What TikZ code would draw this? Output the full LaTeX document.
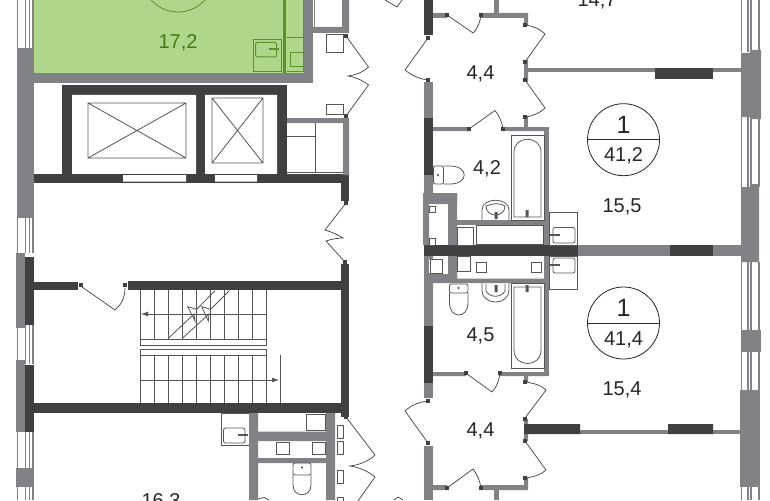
\documentclass[tikz,border=0pt]{standalone}
\usepackage{fontspec}
\setmainfont{Liberation Sans}
\usetikzlibrary{arrows.meta}
\definecolor{walldark}{HTML}{404040}
\definecolor{wallgray}{HTML}{808285}
\definecolor{linegray}{HTML}{555555}
\definecolor{roomgreen}{HTML}{B0D68C}
\definecolor{linegreen}{HTML}{5A9327}
\definecolor{textgreen}{HTML}{447A14}

\begin{document}
\begin{tikzpicture}[x=1pt,y=-1pt,
  wall/.style={fill=walldark},
  gray wall/.style={fill=wallgray},
  fixture/.style={draw=linegray,line width=0.8pt},
  door/.style={draw=walldark,line width=0.7pt},
  greenline/.style={draw=linegreen,line width=1pt},
  area/.style={font=\fontsize{20}{20}\selectfont,text=black!85},
  badge/.style={circle,draw=black!85,line width=0.8pt,minimum size=72pt,inner sep=0pt}]

  \useasboundingbox (0,0) rectangle (770,500);
  \clip (0,0) rectangle (770,500);

  % green room
  \fill[roomgreen] (34,0) rectangle (304,73);
  \fill[linegreen] (283,0) rectangle (286,73);
  \draw[greenline] (286.5,38) -- (303,38) (303,0) -- (303,72) (286.5,72) -- (303,72);
  \draw[greenline] (290,53) rectangle (303,67);
  \draw[greenline] (253,40) rectangle (281,72);
  \draw[greenline,rounded corners=2pt] (255.5,42.5) rectangle (276.5,57);
  \draw[linegreen,line width=2pt] (269,49.5) -- (279,49.5);
  \node (room badge) [badge,draw=linegreen] at (178,-24) {};

  % outer walls, left
  \fill[gray wall] (17,48) rectangle (34,218);
  \fill[gray wall] (16,253) rectangle (25,328);
  \fill[wall] (25,257) rectangle (34,325);
  \fill[gray wall] (16,360) rectangle (25,432);
  \fill[wall] (25,365) rectangle (34,432);
  \fill[gray wall] (16,468) rectangle (34,487);
  \foreach \winx in {17.5,25.5,29.5,33}{
    \draw[draw=wallgray,line width=1.3pt] (\winx,0) -- (\winx,48);
    \draw[draw=wallgray,line width=1.3pt] (\winx,218) -- (\winx,253);
    \draw[draw=wallgray,line width=1.3pt] (\winx,325) -- (\winx,364);
    \draw[draw=wallgray,line width=1.3pt] (\winx,432) -- (\winx,500);
  }

  % outer walls, right
  \foreach \winx in {741.5,748,751,759}{
    \draw[draw=wallgray,line width=1.2pt] (\winx,0) -- (\winx,52);
    \draw[draw=wallgray,line width=1.2pt] (\winx,117) -- (\winx,187);
    \draw[draw=wallgray,line width=1.2pt] (\winx,262) -- (\winx,330);
    \draw[draw=wallgray,line width=1.2pt] (\winx,352) -- (\winx,392);
    \draw[draw=wallgray,line width=1.2pt] (\winx,487) -- (\winx,500);
  }
  \fill[gray wall] (741,53) rectangle (750,117) (750,50) rectangle (761,119);
  \fill[gray wall] (741,187) rectangle (750,262) (750,184) rectangle (759,262);
  \fill[gray wall] (741,330) rectangle (761,352);
  \fill[gray wall] (740,390) rectangle (760,487);

  % walls round the green room
  \fill[gray wall] (34,73) rectangle (313,83);
  \fill[gray wall] (304,0) rectangle (313,83);
  \fill[gray wall] (313,27) rectangle (349,33) (342,0) rectangle (349,33);
  \draw[draw=wallgray,line width=1pt] (314.5,0) -- (314.5,28);

  % lift core
  \fill[wall] (62,85) rectangle (287,183);
  \fill[white] (72,95) rectangle (196,174) (205,95) rectangle (277,174);
  \fill[wall] (34,174) rectangle (349,183);
  \fill[white] (123,175) rectangle (186,181.5) (215,175) rectangle (257,181.5);
  \draw[fixture] (88,103) rectangle (186,158) (88,103) -- (186,158) (88,158) -- (186,103);
  \draw[fixture] (212,98) rectangle (263,163) (212,98) -- (263,163) (212,163) -- (263,98);
  \fill[gray wall] (287,118) rectangle (349,123) (343,118) rectangle (349,175);
  \draw[fixture] (315,123) -- (315,173) (287,136) -- (315,136) (287,172.5) -- (343,172.5);
  \fill[wall] (341,183) rectangle (349,201);
  \draw[fixture] (326,34.5) rectangle (343,52.5) (326,104) rectangle (343,114);

  % stair hall
  \fill[wall] (25,403) rectangle (349,413);
  \fill[wall] (34,282) rectangle (78,290);
  \fill[wall] (128,281) rectangle (341,290);
  \fill[wall] (341,264) rectangle (349,417);
  \foreach \stepx in {140,154,168,182,196,210,224,238,252,266}{
    \draw[fixture] (\stepx,290) -- (\stepx,339);
    \draw[fixture] (\stepx,355) -- (\stepx,403);
  }
  \draw[fixture] (140,339) rectangle (266,345) (140,349) rectangle (266,355);
  \draw[fixture] (280,355) -- (280,403);
  % flight break
  \draw[fixture] (168.3,338.3) -- (194,314) -- (195,321) -- (187.7,306.7) -- (196.7,309.3) -- (215,290.7);
  \draw[fixture] (182.3,338.3) -- (209,314) -- (208.3,321) -- (201.7,306.7) -- (210.7,309.3) -- (229.3,290.7);
  \draw[fixture,-{Latex[length=7pt,width=5pt]}] (266,314) -- (141,314);
  \draw[fixture,-{Latex[length=7pt,width=5pt]}] (140,380) -- (279,380);

  % bathroom bottom left
  \draw[fixture] (221,413) rectangle (249,445);
  \draw[fixture,rounded corners=2pt] (223.5,428) rectangle (245,443);
  \draw[linegray,line width=1.8pt] (238,435) -- (248,435);
  \fill[gray wall] (249,413) rectangle (258,500) (326,413) rectangle (335,500);
  \fill[gray wall] (258,431.5) rectangle (326,441) (258,458) rectangle (326,463);
  \draw[fixture] (306,414) rectangle (325,430) (276.5,442) rectangle (289,454) (312,442) rectangle (325,454);
  \draw[fixture,rounded corners=2pt] (293,463) rectangle (311,475);
  \draw[fixture] (293,475) -- (293,485) .. controls (293,498) and (311,498) .. (311,485) -- (311,475);
  \fill[walldark] (302,467.5) circle (1.2);
  \draw[fixture] (258,499) -- (264,497.5) -- (269,500);
  \draw[fixture] (337,425) rectangle (343.5,438) (337,441) rectangle (343.5,454) (337,470) rectangle (343.5,483) (337,497) rectangle (343.5,503);

  % middle walls
  \fill[wall] (424,245) rectangle (578,256);
  \fill[gray wall] (578,245) rectangle (741,256);
  \fill[wall] (670,245) rectangle (713,256);
  \fill[wall] (424,0) rectangle (433,35);
  \fill[gray wall] (424,82) rectangle (433,118);
  \fill[wall] (424,118) rectangle (433,175);
  \fill[gray wall] (424,175) rectangle (433,193) (424,193) rectangle (457,204);
  \fill[gray wall] (423,193) rectangle (429,245) (448,193) rectangle (457,245);
  \fill[gray wall] (457,220) rectangle (544,225);
  \fill[gray wall] (544,127) rectangle (549,245);
  \fill[gray wall] (433,127) rectangle (469,131) (503,127) rectangle (549,131);
  \fill[gray wall] (524,117) rectangle (528,127);
  \fill[gray wall] (433,13) rectangle (447,18) (481,13) rectangle (528,18);
  \fill[gray wall] (524,18) rectangle (528,25) (524,60) rectangle (528,82);
  \fill[gray wall] (494,0) rectangle (499,13);
  \fill[gray wall] (528,68) rectangle (741,72.5);
  \fill[wall] (655,68) rectangle (713,79);
  \draw[fixture] (429,206) rectangle (435.5,212) (429,238) rectangle (435.5,245);
  \draw[fixture] (457.5,227) rectangle (473,245) (476,225) rectangle (543,244);

  \fill[gray wall] (424,256) rectangle (433,326) (448,256) rectangle (457,283);
  \fill[gray wall] (433,278.5) rectangle (544,283) (424,274) rectangle (457,283);
  \fill[gray wall] (544,256) rectangle (549,376);
  \fill[wall] (424,326) rectangle (433,383);
  \fill[gray wall] (424,383) rectangle (433,398);
  \fill[gray wall] (433,372) rectangle (466,376) (500,372) rectangle (549,376);
  \fill[gray wall] (524,376) rectangle (528,382) (524,419) rectangle (528,441);
  \fill[gray wall] (528,430) rectangle (741,434);
  \fill[wall] (524,424) rectangle (580,434) (668,424) rectangle (713,434);
  \fill[gray wall] (424,446) rectangle (433,500);
  \fill[gray wall] (433,485) rectangle (447,490) (481,485) rectangle (528,490) (524,478) rectangle (528,490);
  \fill[gray wall] (494,490) rectangle (499,500);
  \fill[white] (429,259) rectangle (442,273);
  \draw[fixture] (430,259) rectangle (442,273) (457.5,256) rectangle (470,271) (476,262) rectangle (486,272) (531,262) rectangle (541,272);

  % hinges
  \foreach \hinge in {(346,36),(346,116),(346,203),(345,262),(81,285),(125,285),(346,417),
    (428,38),(428,80),(447,15),(481,15),(525,25),(525,62),(525,80),(525,117),(469,129),(503,129),
    (466,373),(500,373),(525,382),(525,419),(525,441),(428,401),(428,443),(447,488),(481,488),(525,478)}
    \fill[walldark] \hinge +(-1.8,-1.8) rectangle +(1.8,1.8);

  % doors
  \draw[door] (346,36) -- (368.5,67) .. controls (362,73) and (355,75) .. (348,76)
    .. controls (355,77) and (362,80) .. (368.5,85) -- (346,116);
  \draw[door] (346,203) -- (325,230) .. controls (332,232) and (338,235) .. (343,238)
    .. controls (338,238) and (332,239) .. (326,241) -- (345,262);
  \draw[door] (82,287) -- (115,310) .. controls (121,305) and (125,298) .. (125,288);
  \draw[door] (346,417) -- (375,455) .. controls (368,462) and (358,465) .. (350,466)
    .. controls (358,467) and (368,471) .. (375,477) -- (358,501);
  \draw[door] (385,0) -- (397,7) -- (402,0);
  \draw[door] (394,500) -- (398,497) -- (403,500);
  \draw[door] (428,38) -- (405,70) .. controls (412,76) and (420,79) .. (428,80);
  \draw[door] (447,15) -- (473,33) .. controls (478,28) and (480,22) .. (481,15);
  \draw[door] (525,25) .. controls (533,26) and (540,29) .. (545,34) -- (525,62);
  \draw[door] (525,80) -- (545,108) .. controls (540,113) and (533,116) .. (525,117);
  \draw[door] (469,129) -- (495,110.5) .. controls (499,115) and (502,122) .. (503,129);
  \draw[door] (467,374) -- (492,392) .. controls (497,387) and (499,380) .. (500,373);
  \draw[door] (525,382) .. controls (533,383) and (541,385) .. (546,390) -- (525,418);
  \draw[door] (428,401) .. controls (420,402) and (411,405) .. (405,411) -- (428,443);
  \draw[door] (447,488) -- (473,469) .. controls (477,474) and (480,481) .. (481,488);
  \draw[door] (525,441) -- (546,470) .. controls (541,475) and (533,477) .. (525,478);

  % upper bathroom
  \draw[fixture] (511,135) rectangle (544,220);
  \draw[fixture] (514,217) -- (541,217) -- (541,152) .. controls (541,135) and (514,135) .. (514,152) -- cycle;
  \draw[fixture,rounded corners=2pt] (433.5,166) rectangle (443.5,184);
  \draw[fixture] (443.5,166) -- (450,166) .. controls (469,166) and (469,184) .. (450,184) -- (443.5,184);
  \fill[walldark] (438,175) circle (1.2);
  \draw[fixture] (482,220) -- (482,210) .. controls (482,197) and (509,197) .. (509,210) -- (509,220);
  \draw[fixture] (486,206) .. controls (495,203) and (500,203) .. (505,206) .. controls (505,218) and (486,218) .. (486,206);
  \fill[linegray] (494.5,212) rectangle (497.5,219) (525.5,210) rectangle (528.5,217);
  \draw[fixture] (549,212) rectangle (577,245);
  \draw[fixture,rounded corners=2pt] (553,227.5) rectangle (575,243);
  \draw[linegray,line width=1.8pt] (550,235) -- (560,235);

  % lower bathroom
  \draw[fixture] (511,283) rectangle (544,368);
  \draw[fixture] (514,287) -- (541,287) -- (541,350) .. controls (541,368) and (514,368) .. (514,350) -- cycle;
  \draw[fixture,rounded corners=2pt] (449.5,284) rectangle (468,293);
  \draw[fixture] (449.5,293) -- (449.5,303) .. controls (449.5,319) and (468,319) .. (468,303) -- (468,293);
  \fill[walldark] (458.5,288) circle (1.2);
  \draw[fixture] (482,283) -- (482,290) .. controls (482,306) and (509,306) .. (509,290) -- (509,283);
  \draw[fixture] (486,284) -- (486,291) .. controls (490,298) and (501,298) .. (505,291) -- (505,284);
  \fill[linegray] (494.5,285) rectangle (497.5,292) (525.5,285) rectangle (528.5,292);
  \draw[fixture] (549,256) rectangle (577,289);
  \draw[fixture,rounded corners=2pt] (553,258) rectangle (575,273);
  \draw[linegray,line width=1.8pt] (550,265) -- (560,265);

  % area labels
  \node (green area) [area,text=textgreen] at (178,43) {17,2};
  \node (top area)   [area] at (597,0.5) {14,7};
  \node (hall up)    [area] at (480.5,74) {4,4};
  \node (bath up)    [area] at (487,168.5) {4,2};
  \node (room up)    [area] at (622,206.5) {15,5};
  \node (bath low)   [area] at (480.5,336) {4,5};
  \node (room low)   [area] at (622,389.5) {15,4};
  \node (hall low)   [area] at (480.5,430.5) {4,4};
  \node (left area)  [area] at (161,501.5) {16,3};

  % flat badges
  \node (badge up) [badge] at (623.5,139.7) {};
  \draw[draw=black!85,line width=0.8pt] (badge up.west) -- (badge up.east);
  \node (count up) [font=\fontsize{25}{25}\selectfont,text=black!85] at (623.5,125) {1};
  \node (total up) [font=\fontsize{20}{20}\selectfont,text=black!85] at (623.5,156) {41,2};
  \node (badge low) [badge] at (623.5,323) {};
  \draw[draw=black!85,line width=0.8pt] (badge low.west) -- (badge low.east);
  \node (count low) [font=\fontsize{25}{25}\selectfont,text=black!85] at (623.5,308) {1};
  \node (total low) [font=\fontsize{20}{20}\selectfont,text=black!85] at (623.5,339.5) {41,4};
\end{tikzpicture}
\end{document}
